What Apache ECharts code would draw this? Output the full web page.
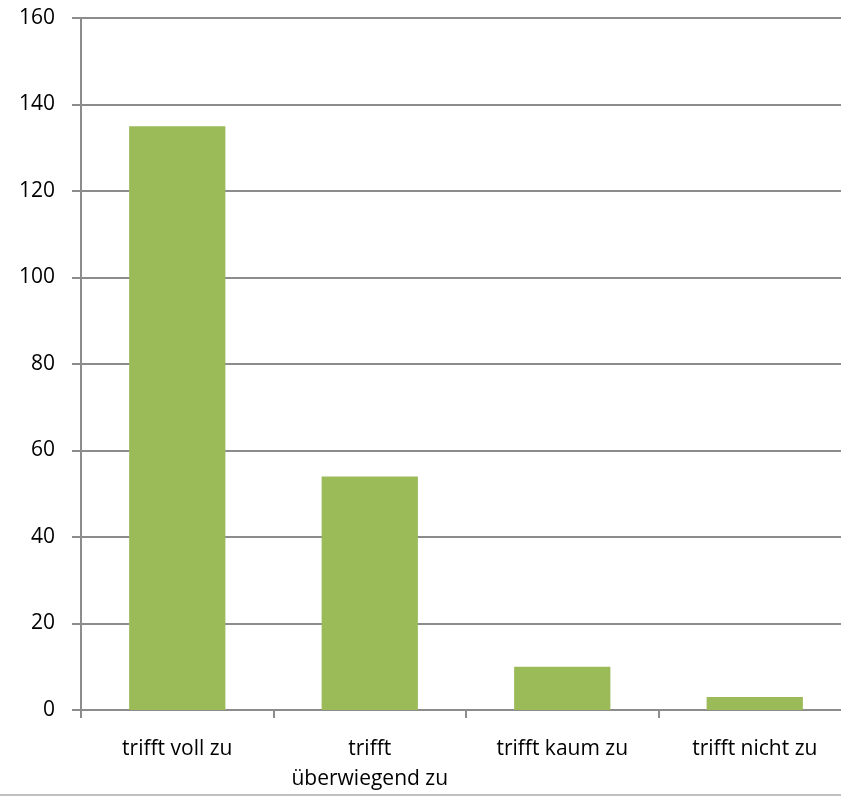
<!DOCTYPE html>
<html><head><meta charset="utf-8">
<script src="https://cdn.jsdelivr.net/npm/echarts@6/dist/echarts.min.js"></script>
<style>html,body{margin:0;padding:0;background:#fff;overflow:hidden;width:841px;height:797px}#c{width:861px;height:797px}</style>
</head><body><div id="c"></div>
<script>
var categories = ['trifft voll zu', 'trifft\nüberwiegend zu', 'trifft kaum zu', 'trifft nicht zu'];
var values = [135, 54, 10, 3];
var yTicks = [0, 20, 40, 60, 80, 100, 120, 140, 160];

var chart = echarts.init(document.getElementById('c'), null, {renderer: 'canvas'});
var font = 'Open Sans, Liberation Sans, sans-serif';
chart.setOption({
  animation: false,
  backgroundColor: '#fff',
  grid: {left: 81, top: 18, right: 10, bottom: 87, containLabel: false},
  xAxis: {
    type: 'category',
    data: categories,
    axisLine: {lineStyle: {color: '#8c8c8c', width: 2}},
    axisTick: {show: true, length: 8, lineStyle: {color: '#8c8c8c', width: 2}},
    axisLabel: {color: '#000', fontFamily: font, fontSize: 21, margin: 24, lineHeight: 30, interval: 0}
  },
  yAxis: {
    type: 'value',
    min: yTicks[0], max: yTicks[yTicks.length - 1], interval: 20,
    axisLine: {show: true, lineStyle: {color: '#8c8c8c', width: 2}},
    axisTick: {show: true, length: 9, lineStyle: {color: '#8c8c8c', width: 2}},
    splitLine: {lineStyle: {color: '#8c8c8c', width: 2}},
    axisLabel: {color: '#000', fontFamily: font, fontSize: 21, margin: 26}
  },
  series: [{
    type: 'bar',
    data: values,
    barWidth: '50%',
    itemStyle: {color: '#9bbb59'}
  }],
  graphic: [{
    type: 'line', shape: {x1: 0, y1: 795, x2: 861, y2: 795},
    style: {stroke: '#c0c0c0', lineWidth: 2}
  }]
});
</script></body></html>
